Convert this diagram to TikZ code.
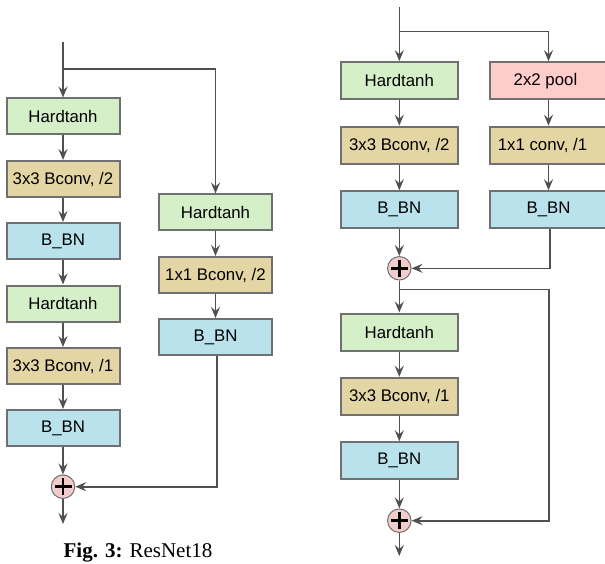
\documentclass[tikz,border=0pt]{standalone}
\usepackage{fontspec}
\setmainfont{Liberation Sans}
\newfontfamily\capfont{Liberation Serif}
\usetikzlibrary{arrows.meta,calc}
\definecolor{bgreen}{RGB}{213,239,201}
\definecolor{btan}{RGB}{228,214,164}
\definecolor{bblue}{RGB}{186,226,236}
\definecolor{bpink}{RGB}{255,204,204}
\definecolor{cpink}{RGB}{242,204,204}
\definecolor{bord}{RGB}{112,112,112}
\definecolor{lin}{RGB}{80,80,80}
\tikzset{
  blk/.style={draw=bord, line width=2pt, minimum width=113pt, minimum height=36pt, inner sep=0pt,
    font=\fontsize{16.8}{20}\selectfont},
  blkr/.style={blk, minimum width=116.5pt, minimum height=37pt},
  act/.style={fill=bgreen},
  cnv/.style={fill=btan},
  bnorm/.style={fill=bblue},
  pool/.style={fill=bpink},
  addc/.style={circle, draw=bord, line width=1pt, fill=cpink, minimum size=23.5pt, inner sep=0pt,
    path picture={
      \draw[line width=2.6pt, black] ([xshift=-8.5pt]path picture bounding box.center) -- ([xshift=8.5pt]path picture bounding box.center);
      \draw[line width=2.6pt, black] ([yshift=-8.5pt]path picture bounding box.center) -- ([yshift=8.5pt]path picture bounding box.center);
    }},
  arr/.style={draw=lin, line width=1.6pt, -{Stealth[length=11pt, width=9pt, inset=4pt]}},
}
\begin{document}
\begin{tikzpicture}[x=1pt, y=-1pt]
\useasboundingbox (0,0) rectangle (605,564);
% ---------- left figure ----------
\coordinate (in1) at (63,42);
\coordinate (br1) at (63,69);
\node[blk, act] (h1) at (63,116.5) {Hardtanh};
\node[blk, cnv] (c1) at (63,179) {3x3 Bconv, /2};
\node[blk, bnorm] (n1) at (63,241) {B\_BN};
\node[blk, act] (h2) at (63,303.5) {Hardtanh};
\node[blk, cnv] (c2) at (63,366) {3x3 Bconv, /1};
\node[blk, bnorm] (n2) at (63,428) {B\_BN};
\node[addc] (p1) at (63,486.7) {};
\coordinate (out1) at (63,524);
\node[blk, act] (rh) at (215.5,212.5) {Hardtanh};
\node[blk, cnv] (rc) at (215.5,275) {1x1 Bconv, /2};
\node[blk, bnorm] (rn) at (215.5,337) {B\_BN};
\draw[arr] (in1) -- (h1);
\draw[arr] (h1) -- (c1);
\draw[arr] (c1) -- (n1);
\draw[arr] (n1) -- (h2);
\draw[arr] (h2) -- (c2);
\draw[arr] (c2) -- (n2);
\draw[arr] (n2) -- (p1);
\draw[arr] (p1) -- (out1);
\draw[arr] (br1) -| (rh.north);
\draw[arr] (rh) -- (rc);
\draw[arr] (rc) -- (rn);
\draw[arr] ([xshift=1.5pt]rn.south) |- (p1.east);
\node[font=\capfont\fontsize{21}{24}\selectfont, anchor=base] (cap) at (138,557) {\textbf{Fig. 3:} ResNet18};
% ---------- right figure ----------
\coordinate (in2) at (399.3,7);
\coordinate (br2) at (399.3,31.7);
\node[blkr, act] (h3) at (399.3,80.7) {Hardtanh};
\node[blkr, pool] (pl) at (548.5,80.7) {\hspace{-6pt}2x2 pool};
\node[blkr, cnv] (c3) at (399.3,145.2) {3x3 Bconv, /2};
\node[blkr, cnv] (cc) at (548.5,145.2) {\hspace{-12pt}1x1 conv, /1};
\node[blkr, bnorm] (n3) at (399.3,209.8) {B\_BN};
\node[blkr, bnorm] (nn) at (548.5,209.8) {B\_BN};
\node[addc] (q1) at (399.3,268.3) {};
\coordinate (br3) at (399.3,289.3);
\coordinate (sk) at (549,289.3);
\node[blkr, act] (h4) at (399.3,332) {Hardtanh};
\node[blkr, cnv] (c4) at (399.3,396.3) {3x3 Bconv, /1};
\node[blkr, bnorm] (n4) at (399.3,460.8) {B\_BN};
\node[addc] (q2) at (399.3,520.7) {};
\coordinate (out2) at (399.3,556);
\draw[arr] (in2) -- (h3);
\draw[arr] (br2) -| (pl.north);
\draw[arr] (h3) -- (c3);
\draw[arr] (c3) -- (n3);
\draw[arr] (n3) -- (q1);
\draw[arr] (pl) -- (cc);
\draw[arr] (cc) -- (nn);
\draw[arr] ([xshift=1.5pt]nn.south) |- (q1.east);
\draw[arr] (q1) -- (h4);
\draw[arr] (h4) -- (c4);
\draw[arr] (c4) -- (n4);
\draw[arr] (n4) -- (q2);
\draw[arr] (q2) -- (out2);
\draw[arr] (br3) -- (sk) |- (q2.east);
\end{tikzpicture}
\end{document}
